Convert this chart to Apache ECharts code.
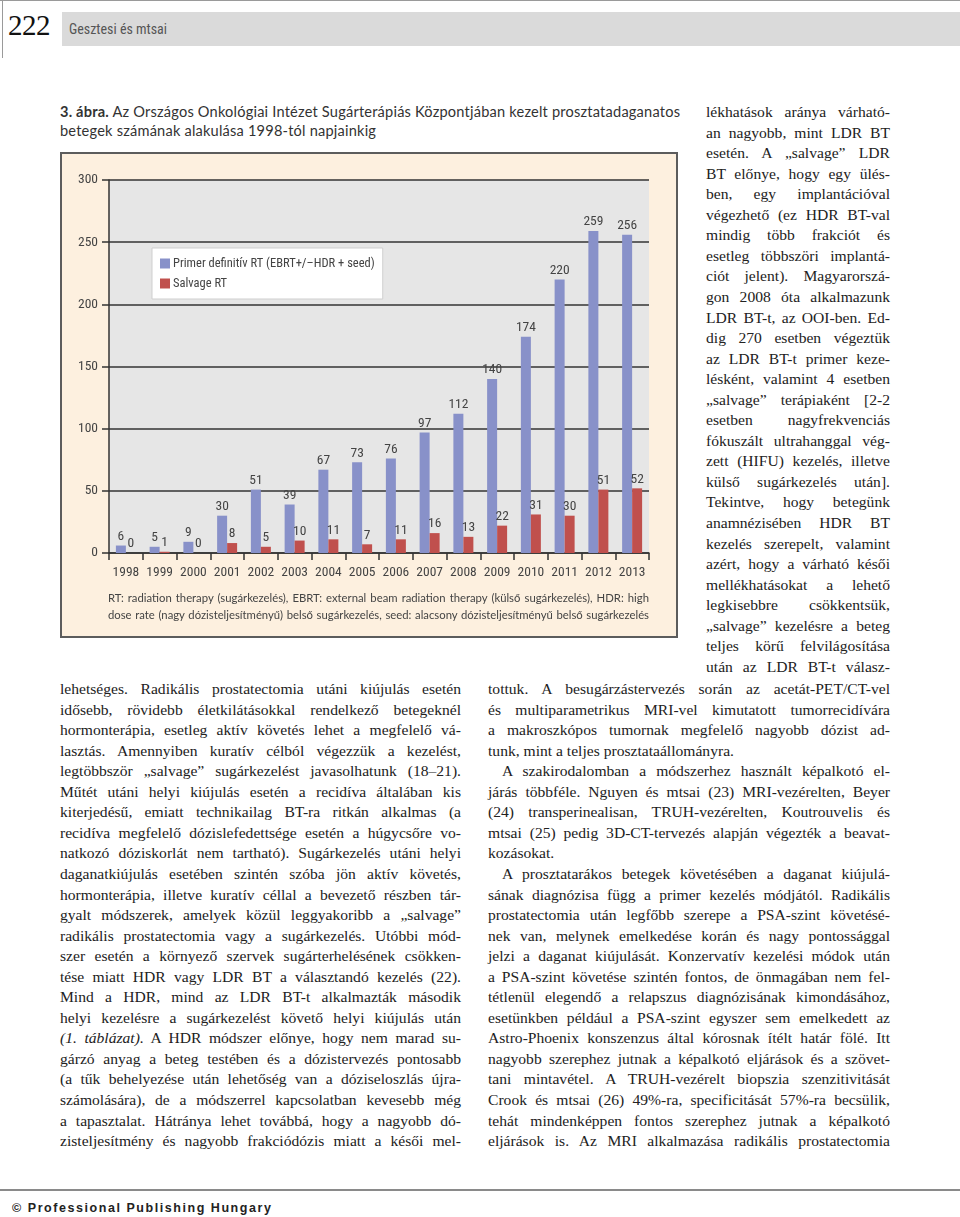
<!DOCTYPE html>
<html>
<head>
<meta charset="utf-8">
<script src="https://cdn.jsdelivr.net/npm/echarts@6/dist/echarts.min.js"></script>
<style>
html,body{margin:0;padding:0;background:#fff;}
#page{position:relative;width:960px;height:1217px;overflow:hidden;background:#fff;}
.abs{position:absolute;}
.ln{position:absolute;font-family:'Liberation Serif','Times New Roman',serif;font-size:15.6px;line-height:20px;color:#222;text-align:justify;text-align-last:justify;}
.ln.end{text-align-last:left;}
.sans{font-family:Lato,'Open Sans',sans-serif;}
</style>
</head>
<body>
<div id="page">
  <!-- header -->
  <div class="abs" style="left:0;top:0;width:960px;height:1px;background:#9a9a9a"></div>
  <div class="abs" style="left:2px;top:0;width:1px;height:58px;background:#9a9a9a"></div>
  <div class="abs" style="left:8px;top:8px;font-family:'Liberation Serif',serif;font-size:29px;line-height:34px;color:#111;letter-spacing:-0.5px">222</div>
  <div class="abs" style="left:62px;top:12px;width:898px;height:34px;background:#dadada"></div>
  <div class="abs" style="left:69px;top:20px;font-family:'Roboto Condensed',sans-serif;font-size:14px;line-height:18px;color:#555">Gesztesi és mtsai</div>

  <!-- caption -->
  <div class="abs sans" style="left:60px;top:102px;width:640px;font-size:14.6px;line-height:19px;letter-spacing:0.2px;color:#333"><b>3. ábra.</b> Az Országos Onkológiai Intézet Sugárterápiás Központjában kezelt prosztatadaganatos<br>betegek számának alakulása 1998-tól napjainkig</div>

  <!-- chart box -->
  <div id="chart" class="abs" style="left:60px;top:152px;width:618px;height:486px;box-sizing:border-box;border:2px solid #5c5c5c;background:#fdf0df"></div>
  <div class="abs sans" style="left:108px;top:589px;width:541px;font-size:11.3px;line-height:17px;color:#444;text-align:justify;text-align-last:justify">RT: radiation therapy (sugárkezelés), EBRT: external beam radiation therapy (külső sugárkezelés), HDR: high dose rate (nagy dózisteljesítményű) belső sugárkezelés, seed: alacsony dózisteljesítményű belső sugárkezelés</div>

  <div id="text"></div>

  <!-- footer -->
  <div class="abs" style="left:0;top:1189px;width:960px;height:2px;background:#8a8a8a"></div>
  <div class="abs" style="left:12px;top:1200px;font-family:'Liberation Sans',Arial,sans-serif;font-weight:bold;font-size:12.5px;line-height:16px;letter-spacing:1.55px;color:#222">© Professional Publishing Hungary</div>
</div>
<script>
// ---- chart data ----
const years = ['1998','1999','2000','2001','2002','2003','2004','2005','2006','2007','2008','2009','2010','2011','2012','2013'];
const primerRT = [6, 5, 9, 30, 51, 39, 67, 73, 76, 97, 112, 140, 174, 220, 259, 256];
const salvageRT = [0, 1, 0, 8, 5, 10, 11, 7, 11, 16, 13, 22, 31, 30, 51, 52];
const seriesNames = ['Primer definitív RT (EBRT+/–HDR + seed)', 'Salvage RT'];

const condensed = "'Roboto Condensed', sans-serif";
const chart = echarts.init(document.getElementById('chart'), null, {renderer: 'canvas'});
const labelStyle = {show: true, position: 'top', distance: 2, fontFamily: condensed, fontSize: 13.5, color: '#444'};
chart.setOption({
  animation: false,
  backgroundColor: 'transparent',
  textStyle: {fontFamily: condensed},
  grid: {left: 47, top: 26, width: 540, height: 373, show: true, backgroundColor: '#e6e6e6', borderWidth: 0},
  legend: {
    left: 90, top: 94, orient: 'vertical', backgroundColor: '#fff', borderColor: '#cfcfcf', borderWidth: 1,
    padding: [9, 8, 9, 8], itemWidth: 10, itemHeight: 10, itemGap: 7, icon: 'rect',
    textStyle: {fontFamily: condensed, fontSize: 12.5, color: '#444', padding: [0, 0, 0, -2]},
    data: seriesNames
  },
  xAxis: {
    type: 'category', data: years, boundaryGap: true,
    axisLine: {lineStyle: {color: '#333', width: 1.5}},
    axisTick: {show: true, length: 7, lineStyle: {color: '#333', width: 1.5}},
    axisLabel: {interval: 0, margin: 13, fontFamily: condensed, fontSize: 13.5, color: '#444'}
  },
  yAxis: {
    type: 'value', min: 0, max: 300, interval: 50,
    axisLine: {show: true, lineStyle: {color: '#333', width: 1.5}},
    axisTick: {show: true, length: 7, lineStyle: {color: '#333', width: 1.5}},
    splitLine: {show: true, lineStyle: {color: '#333', width: 1.5}},
    axisLabel: {margin: 11, fontFamily: condensed, fontSize: 13.5, color: '#444'}
  },
  series: [
    {name: seriesNames[0], type: 'bar', data: primerRT, barWidth: 10, barGap: '0%', itemStyle: {color: '#8891c9'}, label: labelStyle},
    {name: seriesNames[1], type: 'bar', data: salvageRT, barWidth: 10, barGap: '0%', itemStyle: {color: '#c0504d'}, label: labelStyle}
  ]
});

// ---- body text (page layout) ----
const narrowCol = [
 'lékhatások aránya várható-','an nagyobb, mint LDR BT','esetén. A „salvage” LDR','BT előnye, hogy egy ülés-',
 'ben, egy implantációval','végezhető (ez HDR BT-val','mindig több frakciót és','esetleg többszöri implantá-',
 'ciót jelent). Magyarorszá-','gon 2008 óta alkalmazunk','LDR BT-t, az OOI-ben. Ed-','dig 270 esetben végeztük',
 'az LDR BT-t primer keze-','lésként, valamint 4 esetben','„salvage” terápiaként [2-2','esetben nagyfrekvenciás',
 'fókuszált ultrahanggal vég-','zett (HIFU) kezelés, illetve','külső sugárkezelés után].','Tekintve, hogy betegünk',
 'anamnézisében HDR BT','kezelés szerepelt, valamint','azért, hogy a várható késői','mellékhatásokat a lehető',
 'legkisebbre csökkentsük,','„salvage” kezelésre a beteg','teljes körű felvilágosítása','után az LDR BT-t válasz-'
];
const leftCol = [
 'lehetséges. Radikális prostatectomia utáni kiújulás esetén',
 'idősebb, rövidebb életkilátásokkal rendelkező betegeknél',
 'hormonterápia, esetleg aktív követés lehet a megfelelő vá-',
 'lasztás. Amennyiben kuratív célból végezzük a kezelést,',
 'legtöbbször „salvage” sugárkezelést javasolhatunk (18–21).',
 'Műtét utáni helyi kiújulás esetén a recidíva általában kis',
 'kiterjedésű, emiatt technikailag BT-ra ritkán alkalmas (a',
 'recidíva megfelelő dózislefedettsége esetén a húgycsőre vo-',
 'natkozó dóziskorlát nem tartható). Sugárkezelés utáni helyi',
 'daganatkiújulás esetében szintén szóba jön aktív követés,',
 'hormonterápia, illetve kuratív céllal a bevezető részben tár-',
 'gyalt módszerek, amelyek közül leggyakoribb a „salvage”',
 'radikális prostatectomia vagy a sugárkezelés. Utóbbi mód-',
 'szer esetén a környező szervek sugárterhelésének csökken-',
 'tése miatt HDR vagy LDR BT a választandó kezelés (22).',
 'Mind a HDR, mind az LDR BT-t alkalmazták második',
 'helyi kezelésre a sugárkezelést követő helyi kiújulás után',
 '<i>(1. táblázat).</i> A HDR módszer előnye, hogy nem marad su-',
 'gárzó anyag a beteg testében és a dózistervezés pontosabb',
 '(a tűk behelyezése után lehetőség van a dóziseloszlás újra-',
 'számolására), de a módszerrel kapcsolatban kevesebb még',
 'a tapasztalat. Hátránya lehet továbbá, hogy a nagyobb dó-',
 'zisteljesítmény és nagyobb frakciódózis miatt a késői mel-'
];
const rightCol = [
 ['tottuk. A besugárzástervezés során az acetát-PET/CT-vel',0],
 ['és multiparametrikus MRI-vel kimutatott tumorrecidívára',0],
 ['a makroszkópos tumornak megfelelő nagyobb dózist ad-',0],
 ['tunk, mint a teljes prosztataállományra.',2],
 ['A szakirodalomban a módszerhez használt képalkotó el-',1],
 ['járás többféle. Nguyen és mtsai (23) MRI-vezérelten, Beyer',0],
 ['(24) transperinealisan, TRUH-vezérelten, Koutrouvelis és',0],
 ['mtsai (25) pedig 3D-CT-tervezés alapján végezték a beavat-',0],
 ['kozásokat.',2],
 ['A prosztatarákos betegek követésében a daganat kiújulá-',1],
 ['sának diagnózisa függ a primer kezelés módjától. Radikális',0],
 ['prostatectomia után legfőbb szerepe a PSA-szint követésé-',0],
 ['nek van, melynek emelkedése korán és nagy pontossággal',0],
 ['jelzi a daganat kiújulását. Konzervatív kezelési módok után',0],
 ['a PSA-szint követése szintén fontos, de önmagában nem fel-',0],
 ['tétlenül elegendő a relapszus diagnózisának kimondásához,',0],
 ['esetünkben például a PSA-szint egyszer sem emelkedett az',0],
 ['Astro-Phoenix konszenzus által kórosnak ítélt határ fölé. Itt',0],
 ['nagyobb szerephez jutnak a képalkotó eljárások és a szövet-',0],
 ['tani mintavétel. A TRUH-vezérelt biopszia szenzitivitását',0],
 ['Crook és mtsai (26) 49%-ra, specificitását 57%-ra becsülik,',0],
 ['tehát mindenképpen fontos szerephez jutnak a képalkotó',0],
 ['eljárások is. Az MRI alkalmazása radikális prostatectomia',0]
];
const LH = 20.55;
const host = document.getElementById('text');
function addLine(html, left, top, width, cls, indent){
  const d = document.createElement('div');
  d.className = 'ln' + (cls ? ' ' + cls : '');
  d.style.left = (left + (indent||0)) + 'px';
  d.style.top = top + 'px';
  d.style.width = (width - (indent||0)) + 'px';
  d.innerHTML = html;
  host.appendChild(d);
}
narrowCol.forEach((t,i)=>addLine(t, 706, 102 + i*LH, 184));
leftCol.forEach((t,i)=>addLine(t, 60, 679 + i*LH, 401));
rightCol.forEach((r,i)=>addLine(r[0], 488, 679 + i*LH, 402, r[1]===2?'end':'', r[1]===1?14:0));
</script>
</body>
</html>
